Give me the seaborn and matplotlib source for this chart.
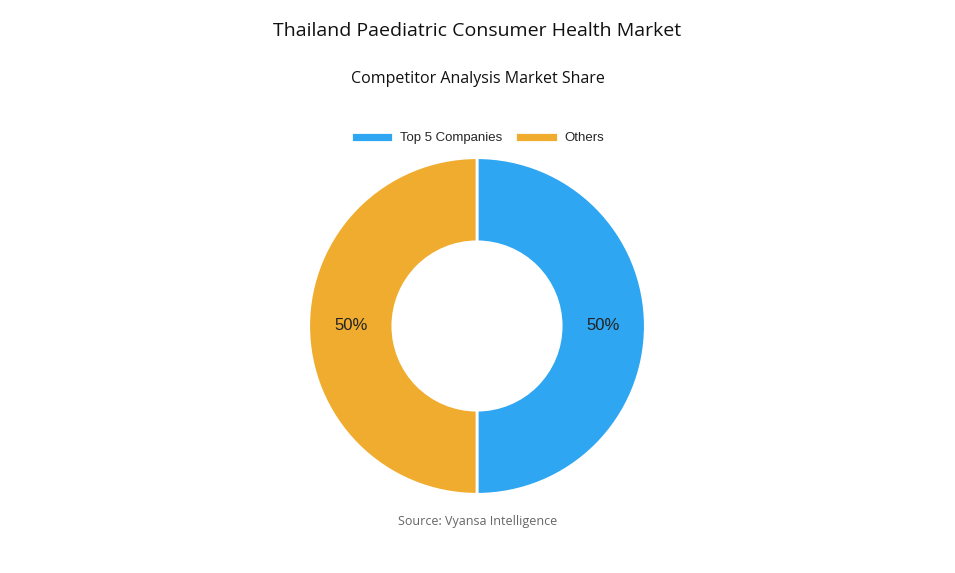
import matplotlib
matplotlib.use('Agg')
import matplotlib.pyplot as plt
import seaborn as sns
import numpy as np

sns.set_theme(style='white')

LABELS = ['Top 5 Companies', 'Others']
SHARES = [50, 50]
COLORS = ['#2EA6F2', '#F0AC2E']

fig = plt.figure(figsize=(9.55, 5.73), dpi=100)
ax = fig.add_axes([307 / 955, 77 / 573, 340 / 955, 340 / 573])

wedges, _ = ax.pie(SHARES, colors=COLORS, startangle=90, counterclock=False,
                   radius=1.0, wedgeprops=dict(width=0.5, edgecolor='white', linewidth=2))
ax.set_aspect('equal')
ax.set_xlim(-1.01, 1.01)
ax.set_ylim(-1.01, 1.01)

for w, v in zip(wedges, SHARES):
    ang = np.deg2rad((w.theta1 + w.theta2) / 2)
    ax.text(0.75 * np.cos(ang), 0.75 * np.sin(ang), f'{v}%', ha='center', va='center',
            fontsize=12, family='Liberation Sans', color='#222222')

fig.text(0.5, 1 - 31 / 573, 'Thailand Paediatric Consumer Health Market', ha='center',
         va='center', fontsize=14, family='Open Sans', fontweight='medium', color='#111111')
fig.text(0.5, 1 - 79 / 573, 'Competitor Analysis Market Share', ha='center',
         va='center', fontsize=11.5, family='Open Sans', color='#111111')
fig.text(0.5, 1 - 522 / 573, 'Source: Vyansa Intelligence', ha='center',
         va='center', fontsize=9, family='Open Sans', color='#666666')

fig.legend(wedges, LABELS, loc='center', bbox_to_anchor=(0.5, 1 - 138 / 573), ncol=2,
           frameon=False, prop=dict(family='Liberation Sans', size=9.5),
           handlelength=3.2, handleheight=0.8, columnspacing=1.0, handletextpad=0.5)

fig.savefig('out.png', dpi=100, facecolor='white')
